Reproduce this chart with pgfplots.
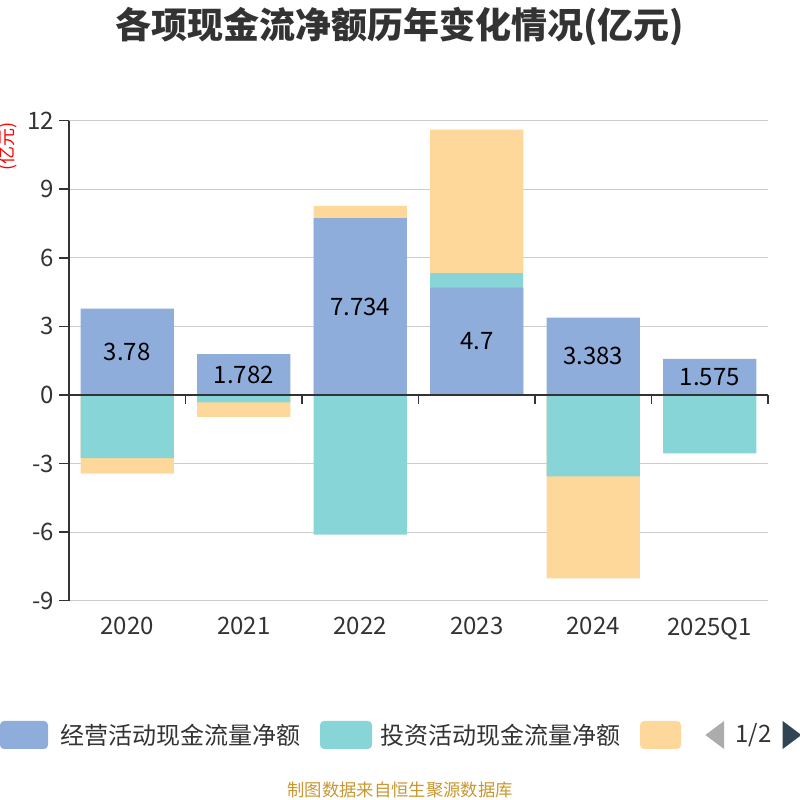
\documentclass[border=0pt]{standalone}
\usepackage{pgfplots}
\pgfplotsset{compat=1.18}
\usepackage{fontspec}
\setmainfont{Noto Sans CJK SC}
\definecolor{cop}{RGB}{143,173,219}
\definecolor{cinv}{RGB}{136,213,216}
\definecolor{cfin}{RGB}{254,216,154}
\definecolor{txt}{RGB}{51,51,51}
\definecolor{gridc}{RGB}{204,204,204}
\definecolor{foot}{RGB}{200,151,47}
\definecolor{navdark}{RGB}{47,69,84}
\begin{document}
\begin{tikzpicture}
\path[use as bounding box] (0,0) rectangle (600pt,600pt);
\begin{axis}[
  at={(51.75pt,149.5pt)}, anchor=south west,
  scale only axis, width=524.25pt, height=360pt,
  xmin=-0.5, xmax=5.5, ymin=-9, ymax=12,
  ytick={-9,-6,-3,0,3,6,9,12},
  xtick={0,1,2,3,4,5},
  xticklabels={2020,2021,2022,2023,2024,2025Q1},
  axis x line*=bottom, axis y line*=left,
  x axis line style={draw=none},
  xtick style={draw=none},
  y axis line style={draw=txt, line width=1.2pt},
  ytick style={draw=txt, line width=1.2pt},
  tick align=outside, major tick length=7.5pt,
  ymajorgrids, grid style={gridc, line width=0.8pt},
  tick label style={font=\fontsize{18}{20}\selectfont, text=txt},
  /pgf/number format/assume math mode=true,
  xticklabel style={yshift=-1.5pt},
  clip=false,
]
% positive side (cumulative tops, drawn back to front)
\addplot[ybar, bar width=0.8, bar shift=0pt, fill=cfin, draw=none] coordinates {(2,8.27) (3,11.61)};
\addplot[ybar, bar width=0.8, bar shift=0pt, fill=cinv, draw=none] coordinates {(3,5.34)};
\addplot[ybar, bar width=0.8, bar shift=0pt, fill=cop, draw=none] coordinates {(0,3.78) (1,1.782) (2,7.734) (3,4.7) (4,3.383) (5,1.575)};
% negative side (cumulative bottoms)
\addplot[ybar, bar width=0.8, bar shift=0pt, fill=cfin, draw=none] coordinates {(0,-3.44) (1,-0.96) (4,-8.03)};
\addplot[ybar, bar width=0.8, bar shift=0pt, fill=cinv, draw=none] coordinates {(0,-2.76) (1,-0.32) (2,-6.11) (4,-3.56) (5,-2.56)};
% zero axis line with boundary ticks
\draw[txt, line width=1.2pt] (axis cs:-0.5,0) -- (axis cs:5.5,0);
\draw[txt, line width=1.2pt] (axis cs:0.5,0) -- (axis cs:0.5,-0.4);
\draw[txt, line width=1.2pt] (axis cs:1.5,0) -- (axis cs:1.5,-0.4);
\draw[txt, line width=1.2pt] (axis cs:2.5,0) -- (axis cs:2.5,-0.4);
\draw[txt, line width=1.2pt] (axis cs:3.5,0) -- (axis cs:3.5,-0.4);
\draw[txt, line width=1.2pt] (axis cs:4.5,0) -- (axis cs:4.5,-0.4);
\draw[txt, line width=1.2pt] (axis cs:5.5,0) -- (axis cs:5.5,-0.4);
% data labels in middle of operating bars
\addplot[only marks, mark=none, nodes near coords, point meta=explicit symbolic,
  every node near coord/.style={anchor=center, font=\fontsize{18}{20}\selectfont, text=black}]
  table[meta=lab] {
x y lab
0 1.89 3.78
1 0.891 1.782
2 3.867 7.734
3 2.35 4.7
4 1.6915 3.383
5 0.7875 1.575
};
\end{axis}
% title
\node[font=\fontsize{27}{30}\selectfont\bfseries, text=txt] at (300pt,579.75pt) {各项现金流净额历年变化情况(亿元)};
% unit label
\node[rotate=90, font=\fontsize{13.5}{15}\selectfont, text=red] at (6pt,490pt) {(亿元)};
% legend
\fill[cop, rounded corners=3pt] (0pt,38.25pt) rectangle (36pt,59.25pt);
\node[anchor=west, inner sep=0pt, font=\fontsize{18}{20}\selectfont, text=txt] at (45pt,48.75pt) {经营活动现金流量净额};
\fill[cinv, rounded corners=3pt] (240pt,38.25pt) rectangle (279pt,59.25pt);
\node[anchor=west, inner sep=0pt, font=\fontsize{18}{20}\selectfont, text=txt] at (285pt,48.75pt) {投资活动现金流量净额};
\fill[cfin, rounded corners=3pt] (480pt,38.25pt) rectangle (510.75pt,59.25pt);
\fill[gray!65] (543pt,38.25pt) -- (529pt,48.75pt) -- (543pt,59.25pt) -- cycle;
\node[anchor=center, inner sep=0pt, font=\fontsize{18}{20}\selectfont, text=txt] at (565pt,48.75pt) {1/2};
\fill[navdark] (587pt,38.25pt) -- (601pt,48.75pt) -- (587pt,59.25pt) -- cycle;
% footer
\node[font=\fontsize{13}{15}\selectfont, text=foot] at (300pt,7.5pt) {制图数据来自恒生聚源数据库};
\end{tikzpicture}
\end{document}
